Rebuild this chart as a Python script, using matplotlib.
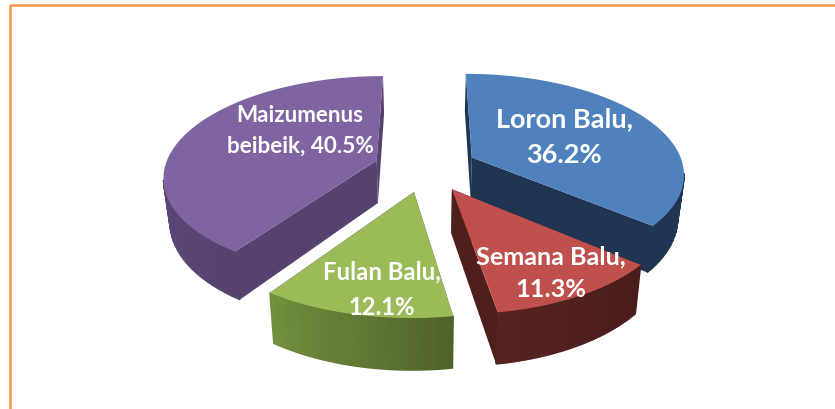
import numpy as np
from matplotlib import pyplot as plt
from matplotlib.colors import to_rgb
from matplotlib.patches import Rectangle

categories = ['Loron Balu', 'Semana Balu', 'Fulan Balu', 'Maizumenus\nbeibeik']
shares = [36.2, 11.3, 12.1, 40.5]

top_colors = ['#4F81BD', '#C0504D', '#9BBB59', '#8064A2']
side_colors = ['#1F3552', '#4F1F1C', '#57426F', '#57426F']
# outer wall colour, start of the arc to end of the arc
wall_from = ['#1F3552', '#4A1D1A', '#4F6229', '#57426F']
wall_to = ['#1F3552', '#552320', '#72903F', '#6B5189']

# projection of the pie plane to pixels
CX, CY = 425.6, 168.5
RX, RY, PERSP = 212.0, 99.0, 0.15
EXPLODE = 0.244
# extrusion of the pie, bottom face from the top face
DEPTH, BOTTOM_X, BOTTOM_Y = 43.0, 0.975, 1.06


def project(x, y):
    d = 1 + PERSP * y
    return CX + RX * x / d, CY - RY * y / d


def bottom(px, py):
    return CX + (px - CX) * BOTTOM_X, CY + (py - CY) * BOTTOM_Y + DEPTH


def quad(ax, x0, y0, x1, y1, color, lw=0.0):
    bx0, by0 = bottom(x0, y0)
    bx1, by1 = bottom(x1, y1)
    ax.fill([x0, x1, bx1, bx0], [y0, y1, by1, by0], color=color, lw=lw, zorder=2)


def draw_wedge(ax, start, end, i):
    mid = (start + end) / 2
    ox, oy = EXPLODE * np.sin(mid), EXPLODE * np.cos(mid)
    theta = np.linspace(start, end, 60)
    rim_x, rim_y = project(ox + np.sin(theta), oy + np.cos(theta))
    ax_x, ax_y = project(ox, oy)

    # radial walls first, the top face hides the one facing away
    quad(ax, ax_x, ax_y, rim_x[0], rim_y[0], side_colors[i])
    quad(ax, ax_x, ax_y, rim_x[-1], rim_y[-1], side_colors[i])

    c0, c1 = np.array(to_rgb(wall_from[i])), np.array(to_rgb(wall_to[i]))
    for j in range(len(theta) - 1):
        # only the part of the rim that faces the viewer
        if rim_x[j + 1] >= rim_x[j]:
            continue
        t = j / (len(theta) - 2)
        quad(ax, rim_x[j], rim_y[j], rim_x[j + 1], rim_y[j + 1], c0 + (c1 - c0) * t, lw=1.0)

    ax.fill(np.r_[ax_x, rim_x], np.r_[ax_y, rim_y], color=top_colors[i], lw=0.0, zorder=2)


plt.figure(figsize=(8.35, 4.1), dpi=100)
ax = plt.axes([0, 0, 1, 1])
ax.set_xlim(0, 835)
ax.set_ylim(410, 0)
ax.axis('off')

# orange frame, runs off the right and bottom of the picture
ax.add_patch(Rectangle((9.5, 6), 900, 500, fill=False, edgecolor='#F79646', lw=1.8))

edges = np.r_[0, np.cumsum(shares)] / np.sum(shares) * 2 * np.pi
for i in [0, 3, 2, 1]:
    draw_wedge(ax, edges[i], edges[i + 1], i)

# label centres and sizes per slice
label_style = [(564, 137, 19.5, 1.58), (551, 273, 18.2, 1.51), (382, 290, 17.2, 1.65), (300, 131, 16.2, 1.53)]
for name, share, (x, y, size, gap) in zip(categories, shares, label_style):
    sep = ' ' if '\n' in name else '\n'
    ax.text(x, y, f'{name},{sep}{share}%', color='white', family='Lato', weight='bold',
            fontsize=size, ha='center', va='center', linespacing=gap, zorder=5)

plt.savefig('out.png', dpi=100)
plt.close()
